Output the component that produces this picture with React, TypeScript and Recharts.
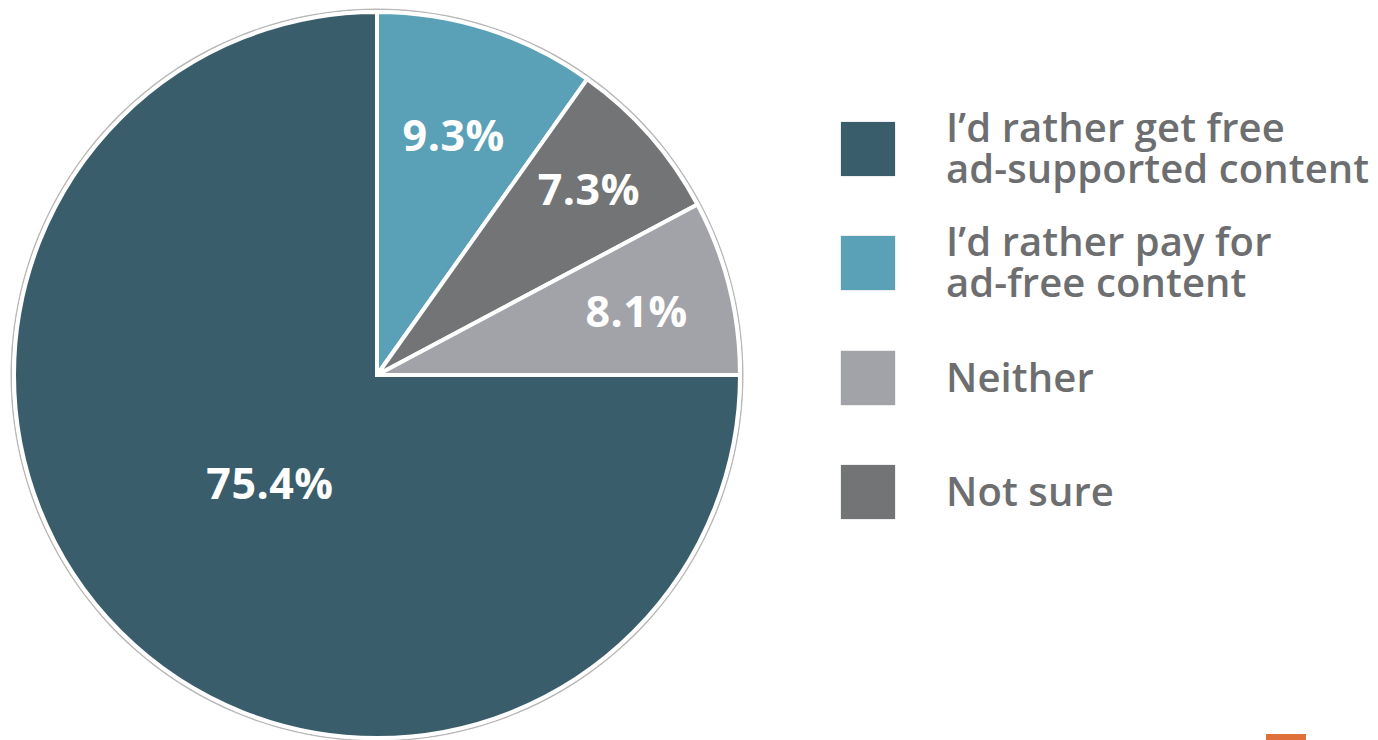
import React from 'react';
import { PieChart, Pie, Cell, Legend } from 'recharts';

// Slices in drawing order (clockwise from 12 o'clock)
const categories = ["I’d rather pay for ad-free content", "Not sure", "Neither", "I’d rather get free ad-supported content"];
// Printed percentages
const valueLabels = ["9.3%", "7.3%", "8.1%", "75.4%"];
// Slice shares as drawn in the picture (the drawn pie gives the large slice exactly 3/4)
const drawnShares = [9.83, 7.39, 7.78, 75.0];
const sliceColors = ["#5aa1b8", "#737476", "#a2a3a8", "#3a5d6b"];

const legendLabels = [
  "I’d rather get free\nad-supported content",
  "I’d rather pay for\nad-free content",
  "Neither",
  "Not sure",
];
const legendColors = ["#3a5d6b", "#5aa1b8", "#a2a3a8", "#737476"];

const outlineData = [{ name: 'outline', value: 1 }];

const data = categories.map((c, i) => ({ name: c, value: drawnShares[i], label: valueLabels[i] }));

const FONT = '"Open Sans", Lato, sans-serif';
// label distance from centre, as a fraction of the radius, per slice
const LABEL_RADIUS = [0.695, 0.777, 0.737, 0.417];

const renderLabel = (props: any) => {
  const { cx, cy, midAngle, outerRadius, payload, index } = props;
  const r = outerRadius * LABEL_RADIUS[index];
  const rad = (Math.PI / 180) * midAngle;
  const x = cx + r * Math.cos(rad);
  const y = cy - r * Math.sin(rad);
  return (
    <text x={x} y={y} fill="#ffffff" textAnchor="middle" dominantBaseline="central"
      style={{ fontFamily: FONT, fontWeight: 700, fontSize: 43, letterSpacing: 0.5 }}>
      {payload.label}
    </text>
  );
};

const LegendContent = () => (
  <div style={{ fontFamily: FONT }}>
    {legendLabels.map((label, i) => {
      const multi = label.includes('\n');
      return (
        <div key={i} style={{ position: 'absolute', left: 0, top: i * 114.3, width: 540, height: 60 }}>
          <div style={{ position: 'absolute', left: 0, top: 0, width: 54, height: 54, background: legendColors[i], boxShadow: '0 0 1px #999' }} />
          <div style={{
            position: 'absolute', left: 105, top: multi ? -16 : 5, color: '#6d6e70',
            fontSize: 40, fontWeight: 600, lineHeight: '41px', whiteSpace: 'pre', letterSpacing: 0.1,
          }}>
            {label}
          </div>
        </div>
      );
    })}
  </div>
);

export default function App() {
  return (
    <div style={{ position: 'absolute', left: 0, top: 0, width: 1378, height: 740, background: '#fff', overflow: 'hidden' }}>
      <PieChart width={1378} height={740} margin={{ top: 0, right: 0, bottom: 0, left: 0 }}>
        <Pie data={outlineData} dataKey="value" cx={377} cy={375} innerRadius={365} outerRadius={366.5}
          startAngle={90} endAngle={-270} stroke="none" fill="#b8b8b8" isAnimationActive={false} legendType="none" />
        <Pie data={data} dataKey="value" nameKey="name" cx={377} cy={375} outerRadius={363}
          startAngle={90} endAngle={-270} stroke="#ffffff" strokeWidth={4}
          label={renderLabel} labelLine={false} isAnimationActive={false}>
          {data.map((d, i) => <Cell key={d.name} fill={sliceColors[i]} />)}
        </Pie>
        <Legend content={<LegendContent />} layout="vertical"
          wrapperStyle={{ position: 'absolute', left: 841, top: 122, width: 540, height: 420 }} />
      </PieChart>
      <div style={{ position: 'absolute', left: 1266, top: 734, width: 40, height: 6, background: '#e0703a' }} />
    </div>
  );
}
